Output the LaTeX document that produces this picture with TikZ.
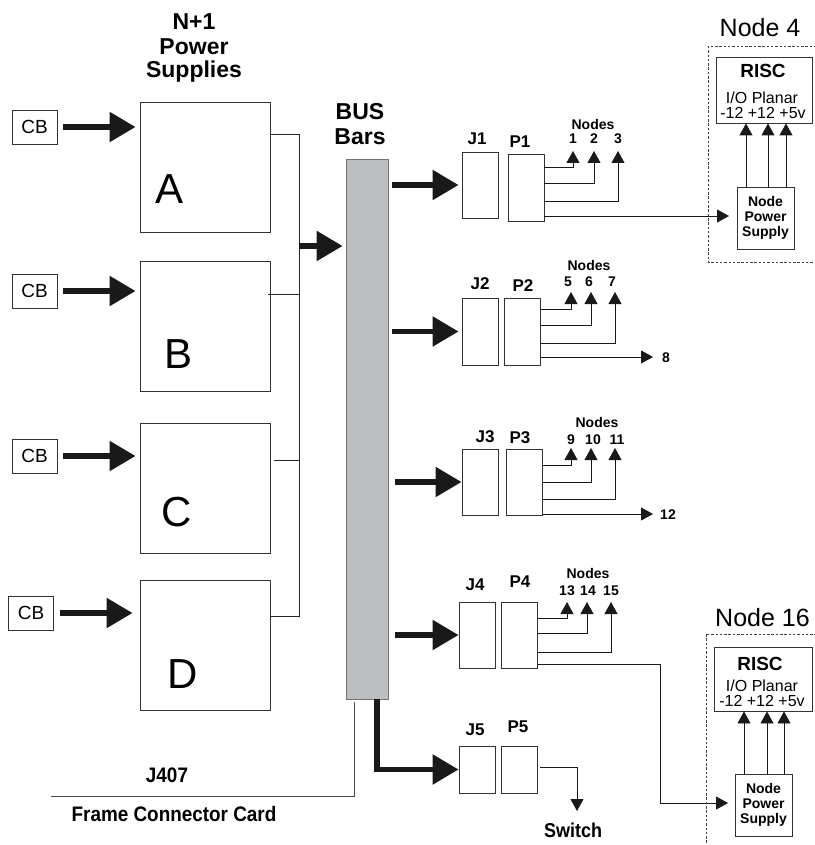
\documentclass[tikz,border=0pt]{standalone}
\usepackage{fontspec}
\setmainfont{Liberation Sans}
\newfontfamily\narrowsf{Liberation Sans}[FakeStretch=0.9]
\usetikzlibrary{arrows.meta}
\definecolor{barGray}{HTML}{BCBEC0}
\begin{document}
\begin{tikzpicture}[x=1pt,y=-1pt,
  box/.style={draw=black!80, line width=0.9pt, inner sep=0pt},
  wire/.style={line width=0.9pt, draw=black!85},
  bigarrow/.style={line width=5.5pt, draw=black!90, -{Triangle[length=26pt,width=29pt]}},
  smallarrow/.style={line width=0.9pt, draw=black!90, -{Triangle[length=12pt,width=13pt]}},
  dashbox/.style={draw=black!75, line width=0.8pt, dash pattern=on 2.5pt off 1.8pt},
  txt/.style={inner sep=0pt, anchor=base},
  title/.style={txt, font=\fontsize{23pt}{24pt}\selectfont\bfseries},
  letter/.style={txt, font=\fontsize{42pt}{42pt}\selectfont},
  cbbox/.style={box, minimum width=45pt, minimum height=34pt, font=\fontsize{19pt}{19pt}\selectfont},
  jp/.style={txt, font=\fontsize{17pt}{17pt}\selectfont\bfseries},
  small/.style={txt, font=\fontsize{14pt}{14pt}\selectfont\bfseries},
  nodetitle/.style={txt, font=\fontsize{25pt}{25pt}\selectfont},
  risc/.style={txt, font=\fontsize{19pt}{19pt}\selectfont\bfseries},
  planar/.style={txt, font=\fontsize{16pt}{16pt}\selectfont},
  npsbox/.style={box, minimum width=57pt, minimum height=62pt, align=center,
    font=\fontsize{14pt}{15pt}\selectfont\bfseries},
  narrowb/.style={txt, font=\fontsize{21pt}{21pt}\selectfont\narrowsf\bfseries},
]
\useasboundingbox (0,0) rectangle (814,845);

% ---------- titles ----------
\node[title] (tN) at (194,30) {N+1};
\node[title] (tP) at (194,55) {Power};
\node[title] (tS) at (194,78) {Supplies};
\node[title] (tBus) at (360,120) {BUS};
\node[title] (tBars) at (360,145) {Bars};

% ---------- power supplies ----------
\node[box, minimum width=130pt, minimum height=130pt] (psA) at (205,167) {};
\node[box, minimum width=130pt, minimum height=130pt] (psB) at (205,326) {};
\node[box, minimum width=130pt, minimum height=130pt] (psC) at (205,488) {};
\node[box, minimum width=130pt, minimum height=130pt] (psD) at (205,645) {};
\node[letter] (lA) at (170,203) {A};
\node[letter] (lB) at (179,368) {B};
\node[letter] (lC) at (177,526) {C};
\node[letter] (lD) at (183,688) {D};

% ---------- circuit breakers ----------
\node[cbbox] (cbA) at (34.5,127) {CB};
\node[cbbox] (cbB) at (34.5,291) {CB};
\node[cbbox] (cbC) at (34.5,456) {CB};
\node[cbbox] (cbD) at (31,613) {CB};
\draw[bigarrow, shorten <=6pt, shorten >=4pt] (cbA.east) -- (cbA.east -| psA.west);
\draw[bigarrow, shorten <=6pt, shorten >=4pt] (cbB.east) -- (cbB.east -| psB.west);
\draw[bigarrow, shorten <=6pt, shorten >=4pt] (cbC.east) -- (cbC.east -| psC.west);
\draw[bigarrow, shorten <=6pt, shorten >=7pt] (cbD.east) -- (cbD.east -| psD.west);

% ---------- bus bar ----------
\node[draw=black!55, fill=barGray, line width=0.8pt, minimum width=42pt, minimum height=540pt, inner sep=0pt] (bar) at (367,429) {};

\coordinate (bA) at (299,134);
\coordinate (bB) at (299,294);
\coordinate (bC) at (299,460);
\coordinate (bD) at (299,616);
\coordinate (bM) at (299,246);
\draw[wire] (psA.east |- bA) -- (bA) -- (bD) -- (psD.east |- bD);
\draw[wire] ([xshift=-2pt]psB.east |- bB) -- (bB);
\draw[wire, shorten <=4pt] (psC.east |- bC) -- (bC);
\draw[bigarrow, shorten >=3pt] (bM) -- (bM -| bar.west);

% ---------- frame connector card ----------
\coordinate (fcTop) at (354,702);
\coordinate (fcCorner) at (354,796);
\coordinate (fcEnd) at (51,796);
\draw[wire, draw=black!70] (fcTop) -- (fcCorner) -- (fcEnd);
\node[narrowb] (j407) at (167,782) {J407};
\node[narrowb] (fcc) at (174,821) {Frame Connector Card};

% ---------- connectors J/P ----------
\node[box, minimum width=36pt, minimum height=66pt] (J1) at (480,185) {};
\node[box, minimum width=36pt, minimum height=67pt] (P1) at (526,187.5) {};
\node[box, minimum width=36pt, minimum height=67pt] (J2) at (480,331.5) {};
\node[box, minimum width=36pt, minimum height=67pt] (P2) at (522,331.5) {};
\node[box, minimum width=36pt, minimum height=66pt] (J3) at (480,482) {};
\node[box, minimum width=36pt, minimum height=66pt] (P3) at (524,482) {};
\node[box, minimum width=36pt, minimum height=66pt] (J4) at (477,635) {};
\node[box, minimum width=36pt, minimum height=66pt] (P4) at (519,635) {};
\node[box, minimum width=36pt, minimum height=47pt] (J5) at (477,769.5) {};
\node[box, minimum width=36pt, minimum height=47pt] (P5) at (519,769.5) {};

\node[jp] (lJ1) at (477,145) {J1};
\node[jp] (lP1) at (520,148) {P1};
\node[jp] (lJ2) at (480,289) {J2};
\node[jp] (lP2) at (523,291) {P2};
\node[jp] (lJ3) at (485,442) {J3};
\node[jp] (lP3) at (520,443) {P3};
\node[jp] (lJ4) at (475,590) {J4};
\node[jp] (lP4) at (520,587) {P4};
\node[jp] (lJ5) at (475,735) {J5};
\node[jp] (lP5) at (518,732) {P5};

% bus bar -> J arrows
\draw[bigarrow, shorten <=4pt, shorten >=3pt] (bar.east |- J1.west) -- (J1.west);
\draw[bigarrow, shorten <=4pt, shorten >=3pt] (bar.east |- J2.west) -- (J2.west);
\draw[bigarrow, shorten <=7pt, shorten >=0pt] (bar.east |- J3.west) -- (J3.west);
\draw[bigarrow, shorten <=7pt, shorten >=0pt] (bar.east |- J4.west) -- (J4.west);
\draw[bigarrow] ([xshift=10pt]bar.south) |- (J5.west);

% ---------- row 1 ----------
\node[small] (nl1) at (593,130) {Nodes};
\node[small] (n1) at (573,144) {1};
\node[small] (n2) at (594,144) {2};
\node[small] (n3) at (618,144) {3};
\coordinate (t1) at (573,151);
\coordinate (t2) at (594,151);
\coordinate (t3) at (618,151);
\draw[smallarrow] (P1.east |- 0,167) -| (t1);
\draw[smallarrow] (P1.east |- 0,183) -| (t2);
\draw[smallarrow] (P1.east |- 0,201) -| (t3);
\coordinate (t4) at (729,216);
\draw[smallarrow] (P1.east |- t4) -- (t4);

% ---------- row 2 ----------
\node[small] (nl2) at (589,270) {Nodes};
\node[small] (n5) at (568,286) {5};
\node[small] (n6) at (589,286) {6};
\node[small] (n7) at (612,286) {7};
\coordinate (t5) at (571,292);
\coordinate (t6) at (591,292);
\coordinate (t7) at (615,292);
\draw[smallarrow] (P2.east |- 0,309) -| (t5);
\draw[smallarrow] (P2.east |- 0,325) -| (t6);
\draw[smallarrow] (P2.east |- 0,343) -| (t7);
\coordinate (t8) at (653,357);
\draw[smallarrow] (P2.east |- t8) -- (t8);
\node[small] (n8) at (666,362) {8};

% ---------- row 3 ----------
\node[small] (nl3) at (597,427) {Nodes};
\node[small] (n9) at (571,444) {9};
\node[small] (n10) at (593,444) {10};
\node[small] (n11) at (617,444) {11};
\coordinate (t9) at (571,448);
\coordinate (t10) at (591,448);
\coordinate (t11) at (615,448);
\draw[smallarrow] (P3.east |- 0,465) -| (t9);
\draw[smallarrow] (P3.east |- 0,482) -| (t10);
\draw[smallarrow] (P3.east |- 0,499) -| (t11);
\coordinate (t12) at (653,514);
\draw[smallarrow] (P3.east |- t12) -- (t12);
\node[small] (n12) at (668,519) {12};

% ---------- row 4 ----------
\node[small] (nl4) at (588,578) {Nodes};
\node[small] (n13) at (567,595) {13};
\node[small] (n14) at (588,595) {14};
\node[small] (n15) at (611,595) {15};
\coordinate (t13) at (567,602);
\coordinate (t14) at (587,602);
\coordinate (t15) at (611,602);
\draw[smallarrow] (P4.east |- 0,618) -| (t13);
\draw[smallarrow] (P4.east |- 0,633) -| (t14);
\draw[smallarrow] (P4.east |- 0,652) -| (t15);
\coordinate (r4a) at (660,664);
\coordinate (t16) at (728,803);
\draw[smallarrow] (P4.east |- r4a) -- (r4a) |- (t16);

% ---------- row 5 ----------
\coordinate (tsw) at (577,811);
\draw[smallarrow] ([xshift=3pt]P5.east |- 0,767) -| (tsw);
\node[narrowb, font=\fontsize{20pt}{20pt}\selectfont\narrowsf\bfseries] (sw) at (573,837) {Switch};

% ---------- Node 4 ----------
\node[nodetitle] (node4) at (760,37) {Node 4};
\draw[dashbox] (708,46) rectangle (830,262);
\node[box, minimum width=96pt, minimum height=66pt] (risc4) at (764,90) {};
\node[risc] (risc4t) at (763,78) {RISC};
\node[planar] (io4) at (762,103.5) {I/O Planar};
\node[planar] (v4) at (763,118.5) {-12 +12 +5v};
\node[npsbox] (nps4) at (765.5,218) {Node\\Power\\Supply};
\foreach \xx in {746,768,786}
  \draw[smallarrow] (nps4.north -| \xx,0) -- (risc4.south -| \xx,0);

% ---------- Node 16 ----------
\node[nodetitle, anchor=base west] (node16) at (715,626) {Node 16};
\draw[dashbox] (706,634) rectangle (830,860);
\node[box, minimum width=98pt, minimum height=64pt] (risc16) at (763,679) {};
\node[risc] (risc16t) at (760,670) {RISC};
\node[planar] (io16) at (762,691) {I/O Planar};
\node[planar] (v16) at (762,706) {-12 +12 +5v};
\node[npsbox] (nps16) at (763.5,805) {Node\\Power\\Supply};
\foreach \xx in {744,767,784}
  \draw[smallarrow] (nps16.north -| \xx,0) -- (risc16.south -| \xx,0);

\end{tikzpicture}
\end{document}
